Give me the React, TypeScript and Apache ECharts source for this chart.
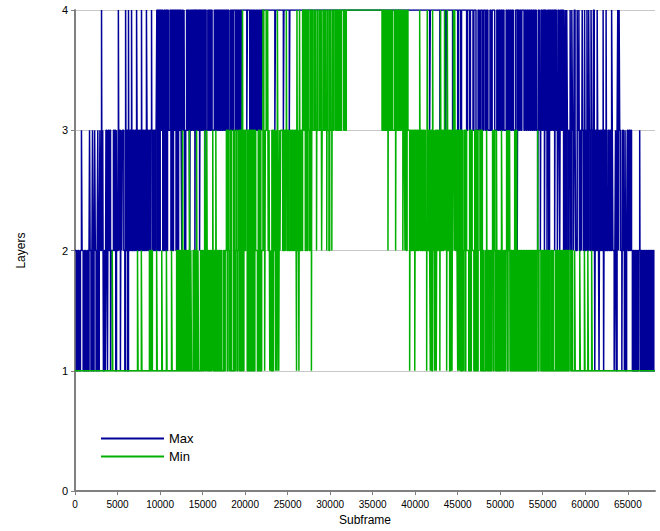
import React, { useEffect, useRef } from "react";
import * as echarts from "echarts";

const seriesNames = ["Max", "Min"];
const xMax = 68200;
const yLevels = [0, 1, 2, 3, 4];

// [subframe, layers] — value changes (step at the given subframe)
const maxSteps: [number, number][] = [
  [0,2],[170,1],[320,2],[480,1],[640,2],[760,3],[830,2],[960,1],[1120,2],[1260,1],[1420,2],[1540,1],[1650,2],[1710,3],[1780,2],[1880,1],[1990,2],[2060,3],[2130,1],[2240,2],[2310,3],[2390,2],[2480,1],[2600,2],[2680,3],[2760,1],[2850,2],[2930,3],[3010,2],[3120,4],[3180,2],[3260,3],[3340,1],[3460,2],[3560,1],
  [3640,3],[3740,2],[3820,1],[3900,3],[4000,2],[4090,3],[4180,1],[4260,2],[4520,3],[4610,2],[4700,3],[4790,1],[4880,3],[4960,2],[5100,4],[5170,2],[5250,3],[5340,1],[5420,3],[5500,2],[5580,3],[5740,2],[5860,1],[5950,4],[6020,2],[6110,3],[6200,1],[6290,4],
  [6340,2],[6450,3],[6560,2],[6650,4],[6720,2],[6830,3],[6930,2],[7030,3],[7120,2],[7240,4],[7300,3],[7400,2],[7500,3],[7600,2],[7700,3],[7820,4],[7880,2],[7980,3],[8080,2],[8180,3],[8280,2],[8400,4],[8470,3],[8560,2],[8660,3],[8750,2],[8850,3],[9000,4],[9060,2],[9160,3],[9250,2],[9350,3],[9450,2],[9540,3],
  [9620,4],[9720,2],[9820,4],[9920,2],[10020,4],[10120,3],[10220,4],[10320,2],[10480,4],[10580,2],[10680,4],[10780,2],[10880,4],[10980,3],[11180,4],[11280,2],[11380,4],[11480,2],[11580,4],[11680,3],[11780,4],[11880,2],[11980,4],[12080,2],[12180,4],[12280,3],
  [12380,4],[12480,3],[12550,2],[12620,4],[12720,3],[12820,4],[12900,2],[13020,3],[13120,4],[13220,3],[13320,4],[13420,3],[13500,2],[13560,4],[13660,3],[13760,4],[13860,3],[13960,4],[14100,2],[14160,4],[14260,3],[14360,4],[14460,3],[14560,4],[14650,2],[14720,4],[14820,3],[14920,4],[15020,3],[15120,4],[15250,2],[15320,4],[15420,3],
  [15620,4],[15720,3],[15820,4],[15920,3],[16020,4],[16120,3],[16380,4],[16480,3],[16580,4],[16680,3],[16780,4],[16880,3],[16980,4],[17080,3],[17180,4],[17280,3],[17380,4],[17480,3],[17580,4],[17680,3],[17780,4],[17880,3],[17980,4],[18080,3],[18280,4],[18380,3],[18480,4],[18580,3],[18680,4],[18900,3],[19000,4],[19100,3],[19200,4],[19300,3],[19400,4],[19500,3],[19600,4],
  [20200,3],[20280,4],[20550,3],[20650,4],[20750,3],[20850,4],[20950,3],[21050,4],[21150,3],[21250,4],[21350,3],[21450,4],[21550,3],[21650,4],[21750,3],[21850,4],[21950,3],[22020,4],
  [23500,3],[23580,4],[24500,3],[24570,4],[25200,3],[25260,4],
  [41700,3],[41780,4],[42900,3],[42970,4],[43600,3],[43680,4],[44400,3],[44480,4],[45000,3],[45100,4],[45350,3],[45450,4],[46050,3],[46150,4],[46400,3],[46500,4],[46800,3],[46900,4],[47150,3],[47400,4],[47550,3],[47700,4],[47900,3],[48050,4],[48250,3],[48400,4],[48550,3],[48800,4],[48900,3],[49050,4],[49350,3],
  [49600,4],[49720,3],[49840,4],[49960,3],[50080,4],[50200,3],[50320,4],[50440,3],[50700,4],[50820,3],[50940,4],[51060,3],[51180,4],[51300,3],[51420,4],[51540,3],[51800,4],[52000,2],[52060,4],[52180,3],[52300,4],[52420,3],[52540,4],[52800,3],[52920,4],[53040,3],[53160,4],[53280,3],[53400,4],[53520,3],[53640,4],[53760,3],[53880,4],[54000,3],[54120,4],[54240,3],[54400,2],[54480,4],[54600,3],[54720,2],[54800,4],[54920,3],[55040,4],[55200,2],[55280,4],[55400,3],[55500,2],[55580,4],[55700,2],[55800,4],[55920,3],[56040,4],[56160,3],[56280,4],[56400,2],[56480,4],[56600,3],[56720,2],[56800,4],[56920,3],[57000,2],[57080,4],[57200,3],[57320,4],
  [57450,2],[57560,3],[57640,4],[57720,2],[57820,4],[57900,3],[58000,2],[58100,3],[58220,4],[58300,2],[58420,4],[58500,3],[58620,2],[58700,4],[58800,3],[58880,2],[59050,4],[59120,3],[59250,4],[59320,2],[59450,3],[59560,2],[59640,4],[59700,3],[59800,2],[59920,4],[60000,2],[60100,3],[60200,4],[60280,2],[60400,4],[60480,3],[60580,2],[60680,4],[60760,3],[60860,2],[60960,4],[61060,3],[61120,1],[61200,3],[61300,2],[61400,4],[61460,3],[61560,2],[61620,1],[61700,3],[61800,2],[61900,3],[62000,2],[62100,4],[62160,1],[62240,3],[62330,2],[62450,4],[62520,2],[62680,3],[62780,2],[62880,3],[62980,2],[63100,4],[63180,3],[63250,2],[63400,1],[63480,2],[63560,3],[63640,1],[63740,3],[63820,4],[63900,2],[63980,4],[64050,3],[64150,2],[64300,1],[64380,3],[64480,2],[64600,1],[64680,3],[64760,1],[64860,2],[64940,3],[65040,2],[65140,3],[65240,2],[65340,3],[65440,2],[65540,1],
  [65640,2],[65740,1],[65840,2],[65940,1],[66040,2],[66140,1],[66240,2],[66400,3],[66460,1],[66560,2],[66660,1],[66760,2],[66860,1],[66960,2],[67060,1],[67160,2],[67260,1],[67360,2],[67460,1],[67560,2],[67660,1],[67760,2],[67860,1],[67960,2],[68060,1],[68200,1]
];

const minSteps: [number, number][] = [
  [0,1],[4380,2],[4440,1],
  [7350,2],[7420,1],[7800,2],[7870,1],[8750,2],[8850,1],[9000,2],[9100,1],[9600,2],[9670,1],[10200,2],[10270,1],[10750,2],[10820,1],[11350,2],[11420,1],
  [11950,2],[12060,1],[12170,2],[12280,1],[12390,2],[12500,1],[12610,2],[12650,3],[12700,1],[12810,2],[12920,1],[13030,2],[13140,1],[13250,2],[13360,1],[13450,3],[13510,1],[13620,2],[13700,1],[13900,2],[14000,1],[14100,2],[14200,1],[14300,3],[14360,1],[14460,2],[14540,1],[14760,2],[14860,1],[14960,2],[15060,1],[15160,2],[15250,3],[15320,1],[15420,2],[15500,3],[15580,1],[15680,2],[15780,1],[15880,2],[15980,1],[16080,2],[16200,3],[16260,1],[16360,2],[16460,1],[16560,3],[16640,1],[16740,2],[16840,1],[16940,2],[17040,1],[17140,2],[17240,1],[17460,2],[17560,1],[17660,2],
  [17800,3],[17900,1],[18000,3],[18100,2],[18200,1],[18300,3],[18400,1],[18640,3],[18740,1],[18840,2],[18940,3],[19040,1],[19140,2],[19240,3],[19340,1],[19440,3],[19540,1],[19640,3],[19700,4],[19760,1],[19860,3],[19960,2],[20060,3],[20250,1],[20350,3],[20450,1],[20550,3],[20650,1],[20750,3],[20850,1],[20950,3],[21050,1],[21150,3],[21250,2],[21450,1],[21550,3],[21650,1],[21750,3],[21850,1],[21950,2],
  [22100,4],[22200,2],[22300,1],[22380,3],[22480,4],[22560,3],[22650,4],[22720,2],[22820,3],[22900,1],[22980,2],[23060,1],[23150,3],[23250,1],[23340,3],[23440,2],[23540,3],[23600,1],[23680,3],[23760,1],[23800,4],[23880,2],[23960,1],[24040,3],[24100,2],[24180,3],
  [24420,2],[24520,3],[24620,2],[24720,3],[24850,4],[24920,2],[25020,3],[25120,2],[25300,3],[25400,2],[25500,3],[25600,2],[25700,3],[25800,2],[25900,3],[26000,2],[26050,1],[26100,4],[26160,2],[26260,3],[26330,1],[26400,4],[26460,2],[26560,3],[26660,2],[26760,4],[26860,3],[26960,4],[27080,2],[27180,4],[27280,2],[27380,4],[27480,3],[27580,2],[27680,4],[27800,1],[27860,4],[27960,3],
  [28150,4],[28250,3],[28400,2],[28460,4],[28550,3],[28750,4],[28850,3],[28950,4],[29000,2],[29060,3],[29160,4],[29260,3],[29360,4],[29460,3],[29600,2],[29660,4],[29760,3],[29860,2],[29950,4],[30050,3],[30200,2],[30260,4],[30360,3],[30460,4],[30650,3],[30750,4],[30850,3],[30950,4],[31050,3],[31150,4],[31250,3],[31350,4],[31600,3],[31700,4],[31800,3],[31900,4],
  [36100,3],[36200,4],[36300,3],[36400,4],[36500,3],[36600,4],[36700,3],[36800,2],[36860,4],[36960,3],[37060,4],[37160,3],[37260,4],[37360,3],[37600,4],[37700,2],[37760,4],[37860,3],[37960,4],[38060,3],[38160,4],[38260,3],[38360,4],[38460,3],[38550,2],[38620,4],[38720,3],[38800,2],[38880,4],[38960,2],[39050,4],[39150,3],
  [39350,1],[39420,3],[39520,2],[39620,3],[39720,2],[39820,3],[39950,1],[40020,3],[40120,2],[40220,3],[40320,2],[40420,3],[40530,4],[40600,2],[40700,3],[40800,2],[40900,3],[41000,2],[41100,3],[41200,2],[41350,1],[41420,4],[41500,2],[41600,3],[41700,2],[41780,1],[41860,3],[41950,1],[42050,4],[42120,2],[42220,3],[42300,1],[42380,3],[42480,1],[42560,3],[42660,2],[42760,3],[42900,1],[42980,4],[43050,2],[43150,3],[43250,2],[43350,3],[43450,4],[43520,2],[43600,3],[43700,1],[43780,4],[43850,2],[43950,3],[44050,1],[44150,3],[44250,2],[44330,1],[44400,3],[44500,4],[44580,2],[44650,4],[44720,2],[44820,3],[44920,2],[45000,1],[45080,3],[45180,1],[45250,3],
  [45350,1],[45450,3],[45550,1],[45650,2],[45750,3],[45850,1],[45950,3],[46050,2],[46300,1],[46400,3],[46500,1],[46600,3],[46700,2],[46900,1],[47000,3],[47100,1],[47200,3],[47300,1],[47400,2],[47500,3],[47700,1],[47800,3],
  [47900,1],[48000,2],[48100,1],[48300,2],[48400,3],[48460,1],[48560,2],[48660,1],[48760,2],[48860,1],[48960,2],[49100,3],[49160,1],[49260,3],[49360,2],[49460,1],[49560,3],[49640,1],[49740,2],[49840,1],[49940,2],[50040,1],[50150,3],[50220,2],[50300,1],[50400,2],[50500,1],[50600,2],[50750,3],[50820,1],[50920,3],[51000,2],[51100,3],[51160,1],[51260,2],[51360,1],[51460,2],[51560,1],[51700,3],[51760,1],[51860,3],[51950,1],
  [52050,2],[52150,1],[52250,2],[52350,1],[52450,2],[52550,1],[52650,2],[52750,1],[52850,2],[52950,1],[53050,2],[53150,1],[53250,2],[53350,1],[53450,2],[53550,1],[53650,2],[53750,1],[53850,2],[53950,1],[54050,2],[54150,1],[54250,2],[54400,3],[54460,1],[54560,2],[54780,1],[54880,2],[54980,1],[55080,2],[55180,1],[55280,2],[55380,1],[55480,2],[55580,1],[55680,2],[55780,1],[55960,2],[56060,1],[56160,2],[56260,1],[56500,2],[56600,1],[56700,2],[56800,1],[56900,2],[57000,1],[57100,2],[57200,1],[57300,2],[57400,1],[57500,2],[57600,1],[57700,2],[57800,1],[57900,2],[58000,1],[58100,2],[58300,1],[58400,2],[58500,1],
  [58750,2],[58820,1],[59350,2],[59420,1],[59900,2],[59970,1],[60300,2],[60370,1],[60750,2],[60820,1],[68200,1]
];

const seriesColors = ["#000099", "#00B000"];

export default function App() {
  const ref = useRef<HTMLDivElement>(null);
  useEffect(() => {
    if (!ref.current) return;
    const chart = echarts.init(ref.current, null, { renderer: "svg" });
    const font = "Liberation Sans, Arial, Helvetica, sans-serif";
    chart.setOption({
      animation: false,
      backgroundColor: "#ffffff",
      textStyle: { fontFamily: font },
      grid: { left: 75, right: 5, top: 10, bottom: 36, containLabel: false },
      legend: {
        orient: "vertical",
        left: 101,
        top: 432,
        padding: 0,
        itemWidth: 63,
        itemHeight: 2,
        itemGap: 5,
        icon: "rect",
        data: seriesNames,
        textStyle: { fontSize: 13, color: "#000", fontFamily: font },
      },
      xAxis: {
        type: "value",
        min: 0,
        max: xMax,
        interval: 5000,
        name: "Subframe",
        nameLocation: "middle",
        nameGap: 20,
        nameTextStyle: { fontSize: 12, color: "#000", fontFamily: font },
        axisLine: { show: true, lineStyle: { color: "#808080", width: 2 } },
        axisTick: { show: true, length: 4, lineStyle: { color: "#808080" } },
        axisLabel: {
          fontSize: 10,
          color: "#000",
          margin: 8,
          showMaxLabel: false,
          fontFamily: font,
          formatter: (v: number) => String(v),
        },
        splitLine: { show: false },
      },
      yAxis: {
        type: "value",
        min: yLevels[0],
        max: yLevels[yLevels.length - 1],
        interval: 1,
        name: "Layers",
        nameLocation: "middle",
        nameGap: 48,
        nameRotate: 90,
        nameTextStyle: { fontSize: 12, color: "#000", fontFamily: font },
        axisLine: { show: true, lineStyle: { color: "#808080", width: 2 } },
        axisTick: { show: true, length: 4, lineStyle: { color: "#808080" } },
        axisLabel: { fontSize: 11, color: "#000", margin: 7, fontFamily: font },
        splitLine: { show: true, lineStyle: { color: "#c8c8c8", width: 1 } },
      },
      series: [
        {
          name: seriesNames[0],
          type: "line",
          step: "end",
          data: maxSteps,
          showSymbol: false,
          symbol: "none",
          color: seriesColors[0],
          lineStyle: { color: seriesColors[0], width: 1.5 },
          silent: true,
        },
        {
          name: seriesNames[1],
          type: "line",
          step: "end",
          data: minSteps,
          showSymbol: false,
          symbol: "none",
          color: seriesColors[1],
          lineStyle: { color: seriesColors[1], width: 1.5 },
          silent: true,
        },
      ],
    });
    return () => chart.dispose();
  }, []);
  return (
    <div
      ref={ref}
      style={{ position: "fixed", left: 0, top: 0, width: 660, height: 531 }}
    />
  );
}
